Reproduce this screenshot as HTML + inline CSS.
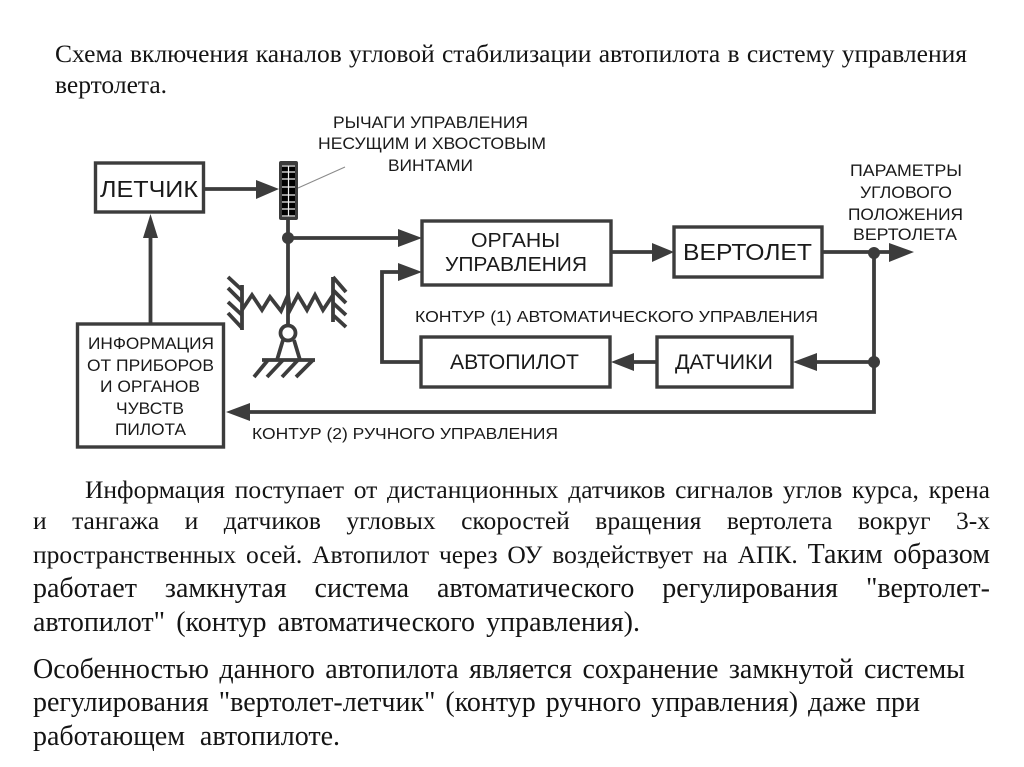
<!DOCTYPE html>
<html lang="ru">
<head>
<meta charset="utf-8">
<title>Схема включения каналов угловой стабилизации</title>
<style>
html,body{margin:0;padding:0;background:#fff;}
#p{position:relative;width:1024px;height:767px;overflow:hidden;background:#fff;}
svg{position:absolute;left:0;top:0;}
.l{position:absolute;font-family:"Liberation Serif","Noto Serif CJK SC",serif;color:#141414;white-space:nowrap;text-align:justify;text-align-last:justify;line-height:30px;height:30px;}
.l span{font-size:28px;line-height:20px;}
svg text{font-family:"Liberation Sans","Noto Sans CJK SC",sans-serif;fill:#1a1a1a;}
</style>
</head>
<body>
<div id="p">
<div class="l" style="left:55px;top:39px;width:912px;font-size:25.5px;">Схема включения каналов угловой стабилизации автопилота в систему управления</div>
<div class="l" style="left:55px;top:70px;width:112px;font-size:25.5px;">вертолета.</div>

<div class="l" style="left:85px;top:475px;width:905px;font-size:25.5px;">Информация поступает от дистанционных датчиков сигналов углов курса, крена</div>
<div class="l" style="left:33px;top:506px;width:957px;font-size:25.5px;">и тангажа и датчиков угловых скоростей вращения вертолета вокруг 3-х</div>
<div class="l" style="left:33px;top:540px;width:957px;font-size:25.5px;">пространственных осей. Автопилот через ОУ воздействует на АПК. <span>Таким образом</span></div>
<div class="l" style="left:33px;top:574px;width:957px;font-size:28px;">работает замкнутая система автоматического регулирования "вертолет-</div>
<div class="l" style="left:33px;top:608px;width:607px;font-size:28px;">автопилот" (контур автоматического управления).</div>

<div class="l" style="left:33px;top:655px;width:932px;font-size:28px;">Особенностью данного автопилота является сохранение замкнутой системы</div>
<div class="l" style="left:33px;top:688px;width:887px;font-size:28px;">регулирования "вертолет-летчик" (контур ручного управления) даже при</div>
<div class="l" style="left:33px;top:722px;width:307px;font-size:28px;">работающем автопилоте.</div>

<svg width="1024" height="767" viewBox="0 0 1024 767" xmlns="http://www.w3.org/2000/svg">
<g fill="none" stroke="#3c3c3c" stroke-width="3.400">
  <rect x="95.500" y="163" width="108" height="49"/>
  <rect x="77.500" y="324" width="146" height="123"/>
  <rect x="422" y="221" width="189" height="64"/>
  <rect x="674" y="227" width="148" height="50"/>
  <rect x="421" y="337" width="189" height="50"/>
  <rect x="657" y="337" width="135" height="50"/>
</g>
<g fill="none" stroke="#3c3c3c" stroke-width="3.800">
  <path d="M204 189H262"/>
  <path d="M150.500 324V232"/>
  <path d="M288 220V326"/>
  <path d="M288 238H402"/>
  <path d="M611 252H656"/>
  <path d="M822 252H893"/>
  <path d="M421 362H382V272H402"/>
  <path d="M657 362H630"/>
  <path d="M874 252V412H244"/>
  <path d="M874 362H812"/>
  <path d="M242 310L252 295L262 310L270 297L281 311L288 295L290 310L298 295L307 310L315 295L323 310L333 295" stroke-linejoin="miter"/>
  <path d="M242 285V330"/>
  <path d="M333 277V322"/>
  <path d="M228 277L242 290M228 288L242 302M228 302L242 315M228 313L242 328"/>
  <path d="M333 277L346 292M333 290L346 303M333 303L346 315M333 315L346 327"/>
  <circle cx="288" cy="333" r="7.500"/>
  <path d="M283 340L277 360M294 340L300 360"/>
  <path d="M262 360H315"/>
  <path d="M268 360L254 377M283 360L267 377M298 360L282 377M313 360L296 377"/>
</g>
<path d="M298 188L345 167" stroke="#8a8a8a" stroke-width="1" fill="none"/>
<g fill="#3c3c3c">
  <path d="M279 189L256 180V199Z"/>
  <path d="M150.500 214L143 238H158Z"/>
  <path d="M422 238L398 229V247Z"/>
  <path d="M422 272L398 263V281Z"/>
  <path d="M674 252L652 243V262Z"/>
  <path d="M914 252L889 243V262Z"/>
  <path d="M793 362L817 353V371Z"/>
  <path d="M611 362L634 353V371Z"/>
  <path d="M226 412L250 403V421Z"/>
  <circle cx="288" cy="238" r="6"/>
  <circle cx="874" cy="253" r="6"/>
  <circle cx="874" cy="362" r="6"/>
</g>
<rect x="279" y="161" width="19" height="59" rx="2" fill="#3c3c3c"/>
<rect x="282" y="165" width="13" height="52" fill="#000"/>
<g stroke="#f0f0f0" stroke-width="1.200" fill="none">
  <path d="M288.500 166V216"/>
  <path d="M282 166H295M282 172H295M282 179H295M282 187H295M282 195H295M282 202H295M282 209H295M282 216H295"/>
</g>

<text x="100" y="197" font-size="23" textLength="98" lengthAdjust="spacingAndGlyphs">ЛЕТЧИК</text>
<text x="333" y="128" font-size="16.500" textLength="195" lengthAdjust="spacingAndGlyphs">РЫЧАГИ УПРАВЛЕНИЯ</text>
<text x="318" y="149" font-size="16.500" textLength="228" lengthAdjust="spacingAndGlyphs">НЕСУЩИМ И ХВОСТОВЫМ</text>
<text x="388" y="171" font-size="16.500" textLength="85" lengthAdjust="spacingAndGlyphs">ВИНТАМИ</text>
<text x="850" y="176" font-size="16.500" textLength="112" lengthAdjust="spacingAndGlyphs">ПАРАМЕТРЫ</text>
<text x="860" y="198" font-size="16.500" textLength="92" lengthAdjust="spacingAndGlyphs">УГЛОВОГО</text>
<text x="848" y="220" font-size="16.500" textLength="115" lengthAdjust="spacingAndGlyphs">ПОЛОЖЕНИЯ</text>
<text x="853" y="240" font-size="16.500" textLength="104" lengthAdjust="spacingAndGlyphs">ВЕРТОЛЕТА</text>
<text x="471" y="247" font-size="20" textLength="89" lengthAdjust="spacingAndGlyphs">ОРГАНЫ</text>
<text x="445" y="271" font-size="20" textLength="142" lengthAdjust="spacingAndGlyphs">УПРАВЛЕНИЯ</text>
<text x="683" y="260" font-size="23" textLength="129" lengthAdjust="spacingAndGlyphs">ВЕРТОЛЕТ</text>
<text x="415" y="322" font-size="16" textLength="403" lengthAdjust="spacingAndGlyphs">КОНТУР (1) АВТОМАТИЧЕСКОГО УПРАВЛЕНИЯ</text>
<text x="450" y="369" font-size="21" textLength="129" lengthAdjust="spacingAndGlyphs">АВТОПИЛОТ</text>
<text x="675" y="369" font-size="21" textLength="98" lengthAdjust="spacingAndGlyphs">ДАТЧИКИ</text>
<text x="88" y="349" font-size="16.500" textLength="126" lengthAdjust="spacingAndGlyphs">ИНФОРМАЦИЯ</text>
<text x="87" y="371" font-size="16.500" textLength="127" lengthAdjust="spacingAndGlyphs">ОТ ПРИБОРОВ</text>
<text x="100" y="392" font-size="16.500" textLength="100" lengthAdjust="spacingAndGlyphs">И ОРГАНОВ</text>
<text x="116" y="414" font-size="16.500" textLength="68" lengthAdjust="spacingAndGlyphs">ЧУВСТВ</text>
<text x="115" y="435" font-size="16.500" textLength="71" lengthAdjust="spacingAndGlyphs">ПИЛОТА</text>
<text x="252" y="439" font-size="16" textLength="306" lengthAdjust="spacingAndGlyphs">КОНТУР (2) РУЧНОГО УПРАВЛЕНИЯ</text>
</svg>
</div>
</body>
</html>
